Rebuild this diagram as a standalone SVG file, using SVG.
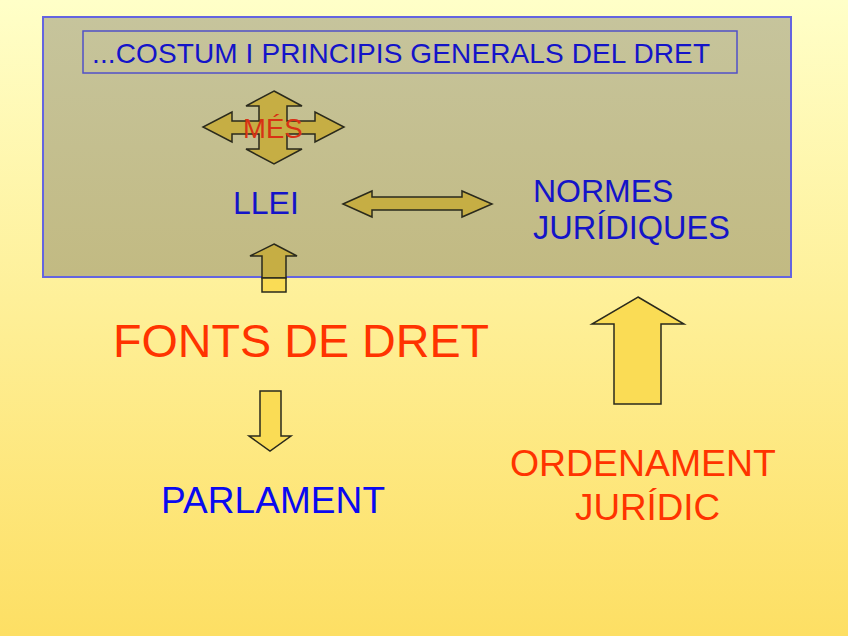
<svg xmlns="http://www.w3.org/2000/svg" width="848" height="636" viewBox="0 0 848 636">
<defs>
<linearGradient id="bg" x1="0" y1="0" x2="0" y2="1">
<stop offset="0" stop-color="#FFFFC8"/>
<stop offset="1" stop-color="#FDDF64"/>
</linearGradient>
<linearGradient id="boxg" x1="0" y1="0" x2="0" y2="1">
<stop offset="0" stop-color="#C6C49C"/>
<stop offset="1" stop-color="#C2BA82"/>
</linearGradient>
<style>
.blue{fill:#1414C8;font-family:"Liberation Sans",Arial,sans-serif}
.red{fill:#FF3300;font-family:"Liberation Sans",Arial,sans-serif}
.darr{fill:#C6AE44;stroke:#2A2A1C;stroke-width:1.5;stroke-linejoin:miter}
.yarr{fill:#FADC55;stroke:#2A2A1C;stroke-width:1.5;stroke-linejoin:miter}
</style>
</defs>
<rect width="848" height="636" fill="url(#bg)"/>
<g id="box">
<rect x="43" y="17" width="748" height="260" fill="url(#boxg)" stroke="#6464E0" stroke-width="2"/>
</g>
<g id="costum">
<rect x="83" y="31" width="654" height="42" fill="none" stroke="#5050C8" stroke-width="1.5"/>
<text class="blue" x="92" y="63" font-size="28" textLength="618">...COSTUM I PRINCIPIS GENERALS DEL DRET</text>
</g>
<g id="connectors">
<polygon class="darr" points="274,91 302,106 287,106 287,121 315,121 315,112 344,127 315,142 315,134 287,134 287,149 302,149 274,164 246,149 259,149 259,134 232,134 232,142 203,127 232,112 232,121 259,121 259,106 246,106"/>
<polygon class="darr" points="343,204 372,191 372,197 462,197 462,191 492,204 462,217 462,210 372,210 372,217"/>
<polygon class="darr" points="274,244 297,256 286,256 286,278 262,278 262,256 250,256"/>
<polygon class="yarr" points="262,278 286,278 286,292 262,292"/>
<polygon class="yarr" points="260,391 281,391 281,436 291,436 270,451 249,436 260,436"/>
<polygon class="yarr" points="638,297 684,324 661,324 661,404 614,404 614,324 592,324"/>
</g>
<g id="mes"><text x="243" y="138" font-size="27.5" fill="#D83214" font-family="Liberation Sans,Arial,sans-serif">MÉS</text></g>
<g id="llei"><text class="blue" x="233" y="214" font-size="32">LLEI</text></g>
<g id="normes">
<text class="blue" x="533" y="202" font-size="32">NORMES</text>
<text class="blue" x="533" y="239" font-size="32.5">JURÍDIQUES</text>
</g>
<g id="fonts"><text class="red" x="113" y="357" font-size="46.7">FONTS DE DRET</text></g>
<g id="parlament"><text x="161" y="513" font-size="37" textLength="224" fill="#0A0AF0" font-family="Liberation Sans,Arial,sans-serif">PARLAMENT</text></g>
<g id="ordenament">
<text class="red" x="510" y="476" font-size="37.4">ORDENAMENT</text>
<text class="red" x="575" y="520" font-size="36.8">JURÍDIC</text>
</g>
</svg>
